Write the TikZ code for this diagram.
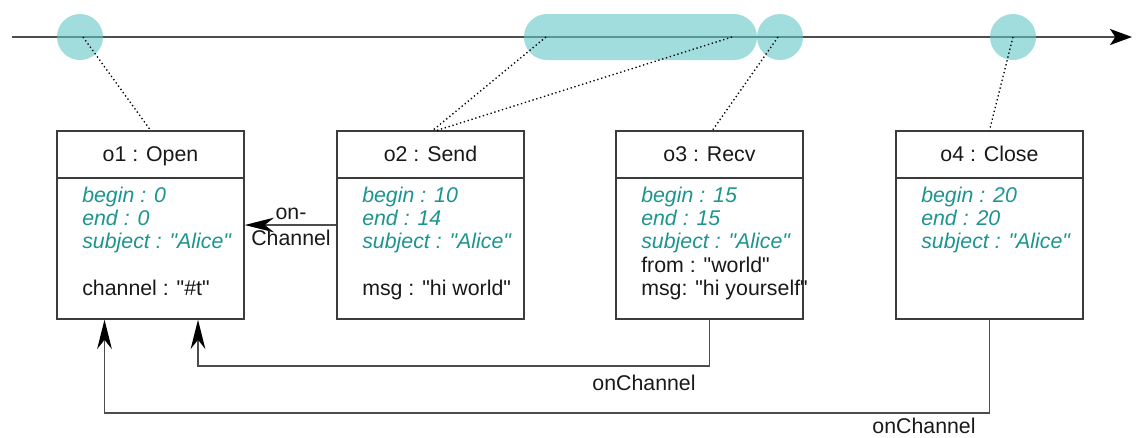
\documentclass[tikz,border=0pt]{standalone}
\usepackage{fontspec}
\setmainfont{Liberation Sans}[Ligatures=TeXOff]
\usetikzlibrary{arrows.meta}
\definecolor{tealtxt}{RGB}{28,148,144}
\definecolor{bubble}{RGB}{97,198,197}
\definecolor{linegray}{RGB}{77,77,77}
\definecolor{boxgray}{RGB}{60,60,60}
\begin{document}
\begin{tikzpicture}[x=0.75pt,y=-0.75pt,
  font=\fontsize{16}{17.5}\selectfont,
  objbox/.style={draw=boxgray, line width=1.1pt, minimum width=140.25pt, minimum height=141pt, inner sep=0pt},
  hline/.style={draw=boxgray, line width=1.1pt},
  attr/.style={anchor=base west, inner sep=0pt, text=tealtxt, font=\fontsize{16}{17.5}\selectfont\itshape},
  val/.style={anchor=base west, inner sep=0pt, text=black!90},
  objtitle/.style={anchor=base, inner sep=0pt, text=black!90},
  bub/.style={circle, fill=bubble, fill opacity=0.6, minimum size=34.5pt, inner sep=0pt},
  pill/.style={rectangle, rounded corners=17.25pt, fill=bubble, fill opacity=0.6, minimum width=174.75pt, minimum height=34.5pt, inner sep=0pt},
  link/.style={dotted, line width=1pt, black},
  conn/.style={draw=linegray, line width=1.1pt, -{Stealth[length=22pt,width=11pt,inset=7pt,color=black]}},
  lbl/.style={inner sep=0pt, text=black!90},
  timeline/.style={draw=linegray, line width=1.7pt, -{Stealth[length=16.5pt,width=12pt,inset=4pt,color=black]}}
]
\useasboundingbox (0,0) rectangle (1139,437);

% timeline
\coordinate (tl0) at (12,37);
\coordinate (tl1) at (1132,37);
\draw[timeline] (tl0) -- (tl1);

% bubbles
\node[bub] (c1) at (80,37) {};
\node[pill] (p2) at (640.5,37) {};
\node[bub] (c3) at (780,37) {};
\node[bub] (c4) at (1013,37) {};

% boxes
\node[objbox] (o1) at (150.5,225) {};
\node[objbox] (o2) at (430.5,225) {};
\node[objbox] (o3) at (709.5,225) {};
\node[objbox] (o4) at (989.5,225) {};
\coordinate (hy) at (0,178);
\draw[hline] (o1.west |- hy) -- (o1.east |- hy);
\draw[hline] (o2.west |- hy) -- (o2.east |- hy);
\draw[hline] (o3.west |- hy) -- (o3.east |- hy);
\draw[hline] (o4.west |- hy) -- (o4.east |- hy);

% titles
\node[objtitle] (t1) at (150.5,161) {o1 : Open};
\node[objtitle] (t2) at (430.5,161) {o2 : Send};
\node[objtitle] (t3) at (709.5,161) {o3 : Recv};
\node[objtitle] (t4) at (989.5,161) {o4 : Close};

% o1 body
\node[attr] (o1b) at (82,202) {begin : 0};
\node[attr] (o1e) at (82,225) {end : 0};
\node[attr] (o1s) at (82,248) {subject : "Alice"};
\node[val]  (o1c) at (82,295) {channel : "\#t"};
% o2 body
\node[attr] (o2b) at (362,202) {begin : 10};
\node[attr] (o2e) at (362,225) {end : 14};
\node[attr] (o2s) at (362,248) {subject : "Alice"};
\node[val]  (o2m) at (362,295) {msg : "hi world"};
% o3 body
\node[attr] (o3b) at (641,202) {begin : 15};
\node[attr] (o3e) at (641,225) {end : 15};
\node[attr] (o3s) at (641,248) {subject : "Alice"};
\node[val]  (o3f) at (641,272) {from : "world"};
\node[val]  (o3m) at (641,295) {msg: "hi yourself"};
% o4 body
\node[attr] (o4b) at (921,202) {begin : 20};
\node[attr] (o4e) at (921,225) {end : 20};
\node[attr] (o4s) at (921,248) {subject : "Alice"};

% dotted links
\coordinate (s1) at (83,37);
\coordinate (s2a) at (546,37);
\coordinate (s2b) at (732,37);
\coordinate (s3) at (778,37);
\coordinate (s4) at (1013,37);
\coordinate (e2a) at (432,131);
\coordinate (e2b) at (435,131);
\coordinate (e3) at (712,131);
\draw[link] (s1) -- (o1.north);
\draw[link] (s2a) -- (e2a);
\draw[link] (s2b) -- (e2b);
\draw[link] (s3) -- (e3);
\draw[link] (s4) -- (o4.north);

% onChannel o2 -> o1
\coordinate (m) at (290,225);
\draw[conn] (m -| o2.west) -- (m -| o1.east);
\node[lbl, align=center, font=\fontsize{16}{20}\selectfont] (l1) at (291,227) {on-\\Channel};

% onChannel o3 -> o1
\coordinate (a1) at (198,366);
\draw[conn] (o3.south) |- (a1) -- (a1 |- o1.south);
\node[lbl, anchor=base] (l2) at (644,390) {onChannel};

% onChannel o4 -> o1
\coordinate (a2) at (104.5,413);
\draw[conn] (o4.south) |- (a2) -- (a2 |- o1.south);
\node[lbl, anchor=base] (l3) at (924,433) {onChannel};
\end{tikzpicture}
\end{document}
